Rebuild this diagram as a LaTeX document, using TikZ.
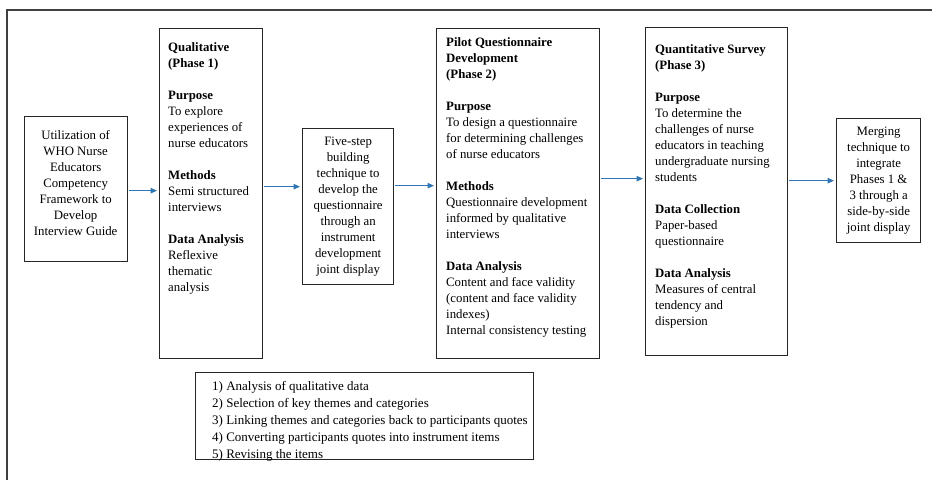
\documentclass[tikz,border=0pt]{standalone}
\usepackage{fontspec}
\setmainfont{Liberation Serif}
\usetikzlibrary{calc, positioning}
\usetikzlibrary{arrows.meta}
\newcommand{\boxfont}{\fontsize{12.8}{16}\selectfont}
\newcommand{\listfont}{\fontsize{13}{17}\selectfont}
\definecolor{flowblue}{RGB}{46,117,182}
\definecolor{framegray}{RGB}{64,64,64}

\begin{document}
\begin{tikzpicture}[x=1pt, y=-1pt,
    frame/.style={draw=black!85, line width=1.3pt, inner sep=0pt, anchor=north west},
    txt/.style={inner sep=0pt, font=\boxfont, align=left, anchor=north west},
    ctxt/.style={inner sep=0pt, font=\boxfont, align=center},
    flow/.style={draw=flowblue, line width=1.1pt, -{Stealth[length=6.5pt,width=5.5pt,inset=0pt]},
                 shorten <=1pt, shorten >=2pt}]
        \useasboundingbox (0,0) rectangle (932,483);
        \draw [framegray, line width=2pt] (932,10) -- (7,10) -- (7,480);

        % boxes
        \node[frame, minimum width=103, minimum height=145] (guide) at (23.5,115.5) {};
        \node[frame, minimum width=103, minimum height=330] (qual) at (159,28) {};
        \node[frame, minimum width=91, minimum height=156] (fivestep) at (302,128) {};
        \node[frame, minimum width=163, minimum height=330] (pilot) at (436,28) {};
        \node[frame, minimum width=142, minimum height=328] (quant) at (645,27) {};
        \node[frame, minimum width=84, minimum height=124] (merge) at (836,118) {};
        \node[frame, minimum width=338, minimum height=87] (steps) at (195,372) {};

        % texts
        \node[ctxt] (guidetxt) at ([yshift=5.5]guide.center)
            {Utilization of\\WHO Nurse\\Educators\\Competency\\Framework to\\Develop\\Interview Guide};
        \node[txt] (qualtxt) at ([shift={(9,14)}]qual.north west)
            {\textbf{Qualitative}\\\textbf{(Phase 1)}\\[16pt]
             \textbf{Purpose}\\To explore\\experiences of\\nurse educators\\[16pt]
             \textbf{Methods}\\Semi structured\\interviews\\[16pt]
             \textbf{Data Analysis}\\Reflexive\\thematic\\analysis};
        \node[ctxt] (fivesteptxt) at (fivestep.center)
            {Five-step\\building\\technique to\\develop the\\questionnaire\\through an\\instrument\\development\\joint display};
        \node[txt] (pilottxt) at ([shift={(10,9)}]pilot.north west)
            {\textbf{Pilot Questionnaire}\\\textbf{Development}\\\textbf{(Phase 2)}\\[16pt]
             \textbf{Purpose}\\To design a questionnaire\\for determining challenges\\of nurse educators\\[16pt]
             \textbf{Methods}\\Questionnaire development\\informed by qualitative\\interviews\\[16pt]
             \textbf{Data Analysis}\\Content and face validity\\(content and face validity\\indexes)\\Internal consistency testing};
        \node[txt] (quanttxt) at ([shift={(10,17)}]quant.north west)
            {\textbf{Quantitative Survey}\\\textbf{(Phase 3)}\\[16pt]
             \textbf{Purpose}\\To determine the\\challenges of nurse\\educators in teaching\\undergraduate nursing\\students\\[16pt]
             \textbf{Data Collection}\\Paper-based\\questionnaire\\[16pt]
             \textbf{Data Analysis}\\Measures of central\\tendency and\\dispersion};
        \node[ctxt] (mergetxt) at (merge.center)
            {Merging\\technique to\\integrate\\Phases 1 \&\\3 through a\\side-by-side\\joint display};
        \node[txt, font=\listfont] (stepstxt) at ([shift={(17,9)}]steps.north west)
            {1) Analysis of qualitative data\\
             2) Selection of key themes and categories\\
             3) Linking themes and categories back to participants quotes\\
             4) Converting participants quotes into instrument items\\
             5) Revising the items};

        % arrows
        \foreach \u/\v/\dy in
        {guide/qual/3,
         qual/fivestep/20,
         fivestep/pilot/8,
         pilot/quant/13,
         quant/merge/0}
        {
            \draw [flow] ([yshift=\dy]\v.west -| \u.east) -- ([yshift=\dy]\v.west);
        };
\end{tikzpicture}
\end{document}
